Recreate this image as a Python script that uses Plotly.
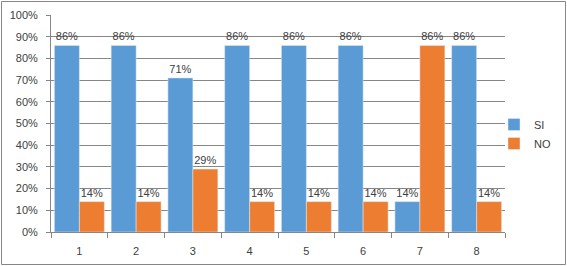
import plotly.graph_objects as go

categories = ["1", "2", "3", "4", "5", "6", "7", "8"]
si_values = [0.86, 0.86, 0.71, 0.86, 0.86, 0.86, 0.14, 0.86]
no_values = [0.14, 0.14, 0.29, 0.14, 0.14, 0.14, 0.86, 0.14]
y_ticks = [i / 10 for i in range(11)]
y_tick_labels = [f"{i*10}%" for i in range(11)]

W, H = 567, 266
L, R, T, B = 51, 4, 15, 34
pw, ph = W - L - R, H - T - B
plot_right = 505

font = dict(family="Liberation Sans", size=11, color="#404040")

fig = go.Figure()
fig.add_trace(go.Bar(
    name="SI", x=categories, y=si_values, marker_color="#5B9BD5",
    text=[f"{round(v*100)}%" for v in si_values], textposition="outside",
    textfont=font, cliponaxis=False,
))
fig.add_trace(go.Bar(
    name="NO", x=categories, y=no_values, marker_color="#ED7D31",
    text=[f"{round(v*100)}%" for v in no_values], textposition="outside",
    textfont=font, cliponaxis=False,
))

fig.update_layout(
    width=W, height=H,
    margin=dict(l=L, r=R, t=T, b=B, pad=0, autoexpand=False),
    paper_bgcolor="white", plot_bgcolor="white",
    barmode="group", bargap=0.12, bargroupgap=0,
    font=font,
    showlegend=True,
    legend=dict(x=(494 - L) / pw, xanchor="left", y=(H - B - 134) / ph, yanchor="middle",
                font=font, itemwidth=30, tracegroupgap=4, bgcolor="rgba(0,0,0,0)"),
    xaxis=dict(domain=[0, (plot_right - L) / pw],
               showline=True, linecolor="#868686", ticks="outside", tickson="boundaries",
               ticklen=5, tickcolor="#868686", showgrid=False, tickfont=font,
               ticklabelstandoff=9),
    yaxis=dict(range=[0, 1], tickvals=y_ticks, ticktext=y_tick_labels,
               showline=True, linecolor="#868686", ticks="outside", ticklen=4,
               tickcolor="#868686", showgrid=True, gridcolor="#868686", gridwidth=1,
               tickfont=font, zeroline=False, ticklabelstandoff=6),
    shapes=[dict(type="rect", xref="paper", yref="paper",
                 x0=(1.5 - L) / pw, x1=(W - 1.5 - L) / pw,
                 y0=-(B - 1.5) / ph, y1=1 + (T - 1.5) / ph,
                 line=dict(color="#868686", width=1), fillcolor="rgba(0,0,0,0)")],
)

fig.write_html("out.html")
